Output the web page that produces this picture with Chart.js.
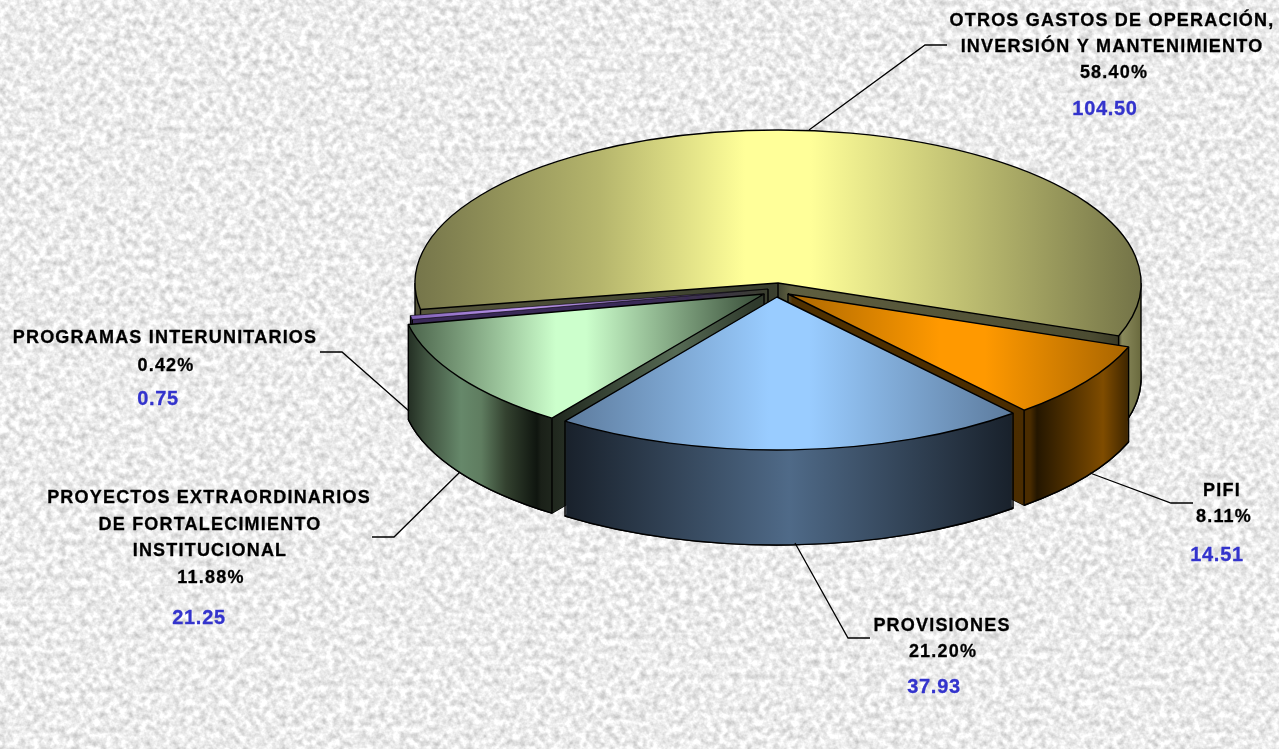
<!DOCTYPE html>
<html lang="es"><head><meta charset="utf-8">
<script src="https://cdn.jsdelivr.net/npm/chart.js@4"></script>
<style>
html,body{margin:0;padding:0;width:1279px;height:749px;overflow:hidden;background:#ececec}
#bg{position:absolute;left:0;top:0}
#c{position:absolute;left:0;top:0;display:block}
</style></head><body>
<svg id="bg" width="1279" height="749" xmlns="http://www.w3.org/2000/svg">
<filter id="t" x="0" y="0" width="100%" height="100%" color-interpolation-filters="sRGB">
<feTurbulence type="fractalNoise" baseFrequency="0.15" numOctaves="3" seed="7"/>
<feColorMatrix type="matrix" values="0.40 0 0 0 0.725  0.40 0 0 0 0.725  0.40 0 0 0 0.725  0 0 0 0 1"/>
</filter>
<rect width="1279" height="749" filter="url(#t)"/>
</svg>
<canvas id="c" width="1279" height="749"></canvas>
<script>
const categories=["OTROS GASTOS DE OPERACIÓN, INVERSIÓN Y MANTENIMIENTO","PIFI","PROVISIONES","PROYECTOS EXTRAORDINARIOS DE FORTALECIMIENTO INSTITUCIONAL","PROGRAMAS INTERUNITARIOS"];
const values=[104.50,14.51,37.93,21.25,0.75];
const percents=["58.40%","8.11%","21.20%","11.88%","0.42%"];
const baseColors=["#ffff99","#ff9900","#99ccff","#ccffcc","#9966cc"];

/* presentation only */
const TILT=0.4215, DEPTH=95, RADIUS=363;
const shifts=[[0,0],[10,11],[-1,14],[-14,11],[-10,6]];
const drawOrder=[0,4,1,3,2];
const topStops=[
 [[415,"#75754a"],[600,"#b5b56c"],[745,"#ffff99"],[810,"#ffff99"],[970,"#bcbc70"],[1141,"#737347"]],
 [[788,"#b06a00"],[930,"#ff9900"],[975,"#ff9900"],[1128,"#a26100"]],
 [[565,"#5c7a9c"],[770,"#99ccff"],[810,"#99ccff"],[1015,"#5c7a9c"]],
 [[409,"#3f553f"],[570,"#ccffcc"],[600,"#ccffcc"],[768,"#3f553f"]],
 [[411,"#7a5cb0"],[530,"#c09af0"],[768,"#5a4480"]]
];
const wallStops=[
 [[415,"#55553a"],[775,"#3a3f2e"],[790,"#5f5f40"],[1090,"#4c4c32"],[1118,"#3a3a26"],[1122,"#8a8a5c"],[1141,"#6a6a3e"]],
 [[788,"#4f3000"],[1020,"#4a2c00"],[1027,"#241600"],[1093,"#7f4c00"],[1128,"#241600"]],
 [[565,"#18202a"],[790,"#4f6a88"],[1015,"#18202a"]],
 [[409,"#0f150f"],[440,"#3f523f"],[475,"#66886a"],[495,"#5f7d60"],[520,"#33412f"],[551,"#0f150f"],[555,"#1a2018"],[690,"#566a54"],[768,"#2f3a2c"]],
 [[411,"#3a2a58"],[768,"#3a2a58"]]
];
const labelBlocks=[
 {lines:[["OTROS GASTOS DE OPERACIÓN,",1112,26],["INVERSIÓN Y MANTENIMIENTO",1112,52],["58.40%",1114,78]],val:["104.50",1105,115]},
 {lines:[["PIFI",1222,496],["8.11%",1224,522]],val:["14.51",1217,561]},
 {lines:[["PROVISIONES",942,631],["21.20%",943,657]],val:["37.93",934,693]},
 {lines:[["PROYECTOS EXTRAORDINARIOS",209,503],["DE FORTALECIMIENTO",210,530],["INSTITUCIONAL",210,556],["11.88%",211,583]],val:["21.25",199,624]},
 {lines:[["PROGRAMAS INTERUNITARIOS",165,343],["0.42%",166,371]],val:["0.75",158,405]}
];
const leaders=[
 [[947,45],[925,45],[809,130]],
 [[1193,503],[1171,503],[1090,473]],
 [[870,638],[848,638],[795,543]],
 [[372,537],[394,537],[460,472]],
 [[320,352],[342,352],[409,411]]
];

function grad(ctx,stops){
  const a=stops[0][0],b=stops[stops.length-1][0];
  const g=ctx.createLinearGradient(a,0,b,0);
  stops.forEach(s=>g.addColorStop((s[0]-a)/(b-a),s[1]));
  return g;
}
function fillArc(ctx,arc,fill,dx,dy){
  const opts=Object.create(arc.options,{backgroundColor:{value:fill},borderWidth:{value:0}});
  const view=Object.create(arc,{options:{value:opts,writable:true}});
  ctx.save();
  ctx.translate(arc.x+dx,arc.y+dy);
  ctx.scale(1,TILT);
  ctx.translate(-arc.x,-arc.y);
  arc.draw.call(view,ctx);
  ctx.restore();
}
function outline(ctx,arc,dx,dy){
  const vx=arc.x+dx,vy=arc.y+dy,R=arc.outerRadius;
  ctx.beginPath();
  ctx.moveTo(vx,vy);
  ctx.ellipse(vx,vy,R,R*TILT,0,arc.startAngle,arc.endAngle);
  ctx.closePath();
  ctx.stroke();
}
/* only the front half of a rim can be seen from above */
function rim(ctx,arc,dx,dy){
  const vx=arc.x+dx,vy=arc.y+dy,R=arc.outerRadius;
  for(let k=-1;k<=2;k++){
    const a=Math.max(arc.startAngle,k*2*Math.PI),b=Math.min(arc.endAngle,k*2*Math.PI+Math.PI);
    if(b>a){ctx.beginPath();ctx.ellipse(vx,vy,R,R*TILT,0,a,b);ctx.stroke();}
  }
}
function edges(ctx,arc,dx,dy){
  const vx=arc.x+dx,vy=arc.y+dy,R=arc.outerRadius;
  const list=[arc.startAngle,arc.endAngle];
  for(let k=-2;k<=6;k++){const a=k*Math.PI;if(a>arc.startAngle&&a<arc.endAngle)list.push(a);}
  list.forEach(a=>{
    const x=vx+R*Math.cos(a),y=vy+R*TILT*Math.sin(a);
    ctx.beginPath();ctx.moveTo(x,y);ctx.lineTo(x,y+DEPTH);ctx.stroke();
  });
  ctx.beginPath();ctx.moveTo(vx,vy);ctx.lineTo(vx,vy+DEPTH);ctx.stroke();
}
const pie3d={
  id:'pie3d',
  beforeDatasetsDraw(chart){
    const ctx=chart.ctx, arcs=chart.getDatasetMeta(0).data;
    ctx.save();
    ctx.strokeStyle="#000";ctx.lineJoin="round";
    drawOrder.forEach(i=>{
      const arc=arcs[i],[dx,dy]=shifts[i],g=grad(ctx,wallStops[i]);
      ctx.lineWidth=1.4;
      outline(ctx,arc,dx,dy+DEPTH);
      for(let d=DEPTH;d>=1;d--) fillArc(ctx,arc,g,dx,dy+d);
      rim(ctx,arc,dx,dy+DEPTH);
      edges(ctx,arc,dx,dy);
    });
    drawOrder.forEach(i=>{
      const arc=arcs[i],[dx,dy]=shifts[i];
      fillArc(ctx,arc,grad(ctx,topStops[i]),dx,dy);
      ctx.lineWidth=i===4?0.6:1.4;
      outline(ctx,arc,dx,dy);
    });
    ctx.restore();
    return false;
  },
  afterDraw(chart){
    const ctx=chart.ctx;
    ctx.save();
    ctx.strokeStyle="#000";ctx.lineWidth=1.3;
    leaders.forEach(p=>{
      ctx.beginPath();p.forEach((q,k)=>k?ctx.lineTo(q[0],q[1]):ctx.moveTo(q[0],q[1]));ctx.stroke();
    });
    ctx.textAlign="center";ctx.textBaseline="alphabetic";ctx.lineJoin="round";
    labelBlocks.forEach(b=>{
      ctx.font='bold 18px "Liberation Sans"';ctx.letterSpacing="1.2px";ctx.fillStyle="#000";ctx.strokeStyle="#000";ctx.lineWidth=0.3;
      b.lines.forEach(l=>{ctx.fillText(l[0],l[1],l[2]);ctx.strokeText(l[0],l[1],l[2]);});
      ctx.font='bold 20px "Liberation Sans"';ctx.letterSpacing="0.7px";ctx.fillStyle="#3333cc";ctx.strokeStyle="#3333cc";
      ctx.fillText(b.val[0],b.val[1],b.val[2]);ctx.strokeText(b.val[0],b.val[1],b.val[2]);
    });
    ctx.restore();
  }
};
new Chart(document.getElementById('c'),{
  type:'pie',
  data:{labels:categories,datasets:[{data:values,backgroundColor:baseColors,borderWidth:0}]},
  options:{
    responsive:false,animation:false,events:[],
    rotation:260,radius:RADIUS,
    layout:{padding:{left:277,bottom:183}},
    plugins:{legend:{display:false},tooltip:{enabled:false}}
  },
  plugins:[pie3d]
});
</script>
</body></html>
